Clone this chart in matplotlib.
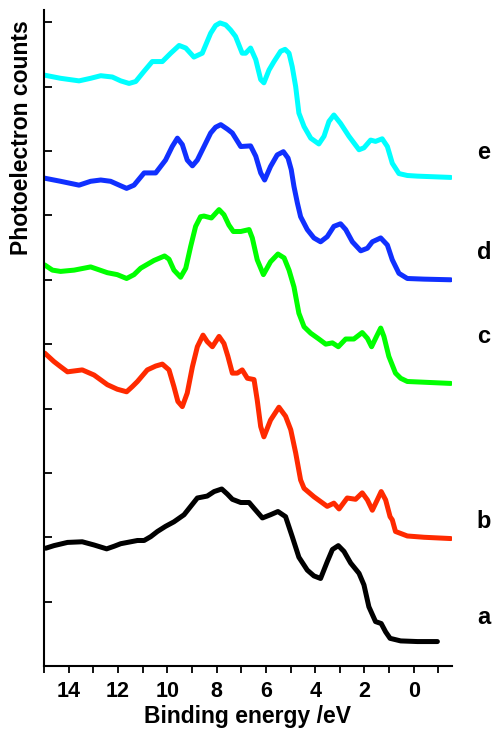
import matplotlib
matplotlib.use("Agg")
import matplotlib.pyplot as plt

plt.rcParams['font.family'] = ['Liberation Sans', 'DejaVu Sans']
plt.rcParams['font.weight'] = 'bold'

# spectra (binding energy in eV, stacked counts in arbitrary units)
e_x = [15.00, 14.33, 13.58, 13.11, 12.70, 12.23, 11.89, 11.55, 11.28, 10.94, 10.61, 10.20, 9.86,
       9.52, 9.25, 8.92, 8.58, 8.24, 8.04, 7.86, 7.63, 7.43, 7.23, 6.96, 6.82, 6.62, 6.41, 6.21,
       6.08, 5.87, 5.67, 5.40, 5.22, 5.06, 4.93, 4.79, 4.66, 4.45, 4.18, 3.85, 3.64, 3.44, 3.24,
       2.97, 2.63, 2.22, 2.02, 1.75, 1.55, 1.28, 1.07, 0.87, 0.60, 0.26, -0.15, -1.50]
e_y = [9.18, 9.13, 9.09, 9.13, 9.17, 9.15, 9.09, 9.05, 9.08, 9.24, 9.39, 9.39, 9.52,
       9.64, 9.60, 9.46, 9.52, 9.83, 9.95, 9.99, 9.96, 9.88, 9.78, 9.52, 9.52, 9.60, 9.42, 9.11,
       9.06, 9.26, 9.39, 9.55, 9.58, 9.52, 9.31, 9.00, 8.59, 8.38, 8.20, 8.11, 8.23, 8.46, 8.56,
       8.43, 8.23, 8.02, 8.05, 8.17, 8.15, 8.19, 8.07, 7.81, 7.65, 7.62, 7.61, 7.59]

d_x = [15.00, 14.33, 13.58, 13.11, 12.70, 12.30, 11.89, 11.65, 11.35, 10.94, 10.47, 10.07, 9.80,
       9.59, 9.39, 9.19, 8.98, 8.78, 8.51, 8.24, 8.04, 7.83, 7.56, 7.36, 7.02, 6.62, 6.41, 6.21,
       6.05, 5.81, 5.54, 5.29, 5.10, 4.97, 4.86, 4.72, 4.59, 4.32, 4.05, 3.78, 3.51, 3.24, 2.97,
       2.76, 2.49, 2.15, 1.88, 1.68, 1.34, 1.07, 0.87, 0.60, 0.26, -0.42, -1.50]
d_y = [7.58, 7.53, 7.47, 7.53, 7.55, 7.53, 7.46, 7.42, 7.47, 7.66, 7.66, 7.86, 8.07,
       8.20, 8.10, 7.86, 7.77, 7.86, 8.07, 8.28, 8.37, 8.41, 8.34, 8.28, 8.07, 8.08, 7.92, 7.66,
       7.55, 7.76, 7.94, 7.99, 7.89, 7.71, 7.45, 7.19, 6.98, 6.78, 6.65, 6.59, 6.67, 6.83, 6.87,
       6.78, 6.59, 6.45, 6.49, 6.59, 6.65, 6.54, 6.31, 6.10, 6.02, 6.01, 6.00]

c_x = [14.97, 14.66, 14.33, 13.78, 13.11, 12.43, 12.03, 11.65, 11.35, 11.08, 10.54, 10.11, 9.93,
       9.73, 9.46, 9.25, 9.05, 8.85, 8.65, 8.51, 8.21, 7.90, 7.70, 7.50, 7.32, 7.02, 6.68, 6.55,
       6.35, 6.10, 5.81, 5.51, 5.26, 5.06, 4.86, 4.66, 4.45, 4.18, 3.85, 3.57, 3.30, 3.06, 2.76,
       2.43, 2.09, 1.88, 1.71, 1.51, 1.34, 1.21, 1.01, 0.74, 0.53, 0.26, -1.50]
c_y = [6.23, 6.15, 6.13, 6.15, 6.20, 6.11, 6.08, 6.02, 6.08, 6.18, 6.30, 6.37, 6.32,
       6.15, 6.04, 6.18, 6.52, 6.83, 6.98, 6.99, 6.96, 7.09, 7.01, 6.85, 6.75, 6.75, 6.78, 6.65,
       6.31, 6.08, 6.28, 6.40, 6.34, 6.15, 5.89, 5.48, 5.27, 5.17, 5.08, 5.00, 5.02, 4.96, 5.08,
       5.08, 5.18, 5.09, 4.96, 5.12, 5.25, 5.12, 4.81, 4.55, 4.47, 4.42, 4.39]

b_x = [14.97, 14.60, 14.33, 14.05, 13.45, 12.97, 12.43, 12.03, 11.65, 11.42, 11.21, 10.81, 10.47,
       10.20, 9.93, 9.73, 9.57, 9.39, 9.19, 8.98, 8.78, 8.55, 8.38, 8.17, 7.90, 7.70, 7.54, 7.36,
       7.16, 6.96, 6.75, 6.48, 6.35, 6.21, 6.08, 5.81, 5.47, 5.20, 4.99, 4.79, 4.59, 4.45, 4.05,
       3.51, 3.24, 3.03, 2.70, 2.36, 2.09, 1.88, 1.68, 1.48, 1.32, 1.14, 0.96, 0.87, 0.74, 0.26,
       -0.42, -1.50]
b_y = [4.86, 4.73, 4.65, 4.57, 4.60, 4.52, 4.37, 4.30, 4.26, 4.34, 4.42, 4.60, 4.66,
       4.69, 4.60, 4.34, 4.11, 4.03, 4.24, 4.65, 4.96, 5.14, 5.04, 4.96, 5.12, 5.01, 4.81, 4.55,
       4.55, 4.60, 4.47, 4.45, 4.13, 3.72, 3.56, 3.82, 4.02, 3.88, 3.67, 3.31, 2.89, 2.76, 2.63,
       2.48, 2.53, 2.44, 2.61, 2.59, 2.69, 2.58, 2.42, 2.58, 2.71, 2.58, 2.32, 2.27, 2.09, 2.02,
       2.00, 1.98]

a_x = [14.93, 14.60, 14.05, 13.45, 12.97, 12.46, 12.16, 11.89, 11.21, 10.94, 10.67, 10.40, 10.07,
       9.73, 9.32, 9.05, 8.78, 8.38, 8.10, 7.79, 7.56, 7.36, 7.02, 6.68, 6.48, 6.14, 5.81, 5.51,
       5.20, 4.93, 4.66, 4.32, 4.05, 3.78, 3.51, 3.30, 3.06, 2.83, 2.56, 2.22, 2.02, 1.82, 1.55,
       1.32, 1.14, 0.96, 0.53, -0.15, -0.96]
a_y = [1.83, 1.87, 1.92, 1.93, 1.88, 1.82, 1.86, 1.90, 1.95, 1.95, 2.01, 2.09, 2.17,
       2.24, 2.35, 2.48, 2.61, 2.64, 2.71, 2.75, 2.67, 2.59, 2.54, 2.54, 2.45, 2.30, 2.35, 2.40,
       2.32, 2.01, 1.69, 1.49, 1.40, 1.36, 1.62, 1.81, 1.87, 1.78, 1.60, 1.44, 1.26, 0.92, 0.69,
       0.66, 0.53, 0.43, 0.39, 0.38, 0.38]

labels = ['a', 'b', 'c', 'd', 'e']
label_y = [0.76, 2.24, 5.12, 6.42, 7.98]
colors = ['black', '#ff2a00', '#00ff00', '#1030ff', '#00ffff']

fig = plt.figure(figsize=(4.95, 7.29), dpi=100)
ax = fig.add_axes([0.089, 0.0864, 0.824, 0.8998])

series = [(a_x, a_y), (b_x, b_y), (c_x, c_y), (d_x, d_y), (e_x, e_y)]
for (x, y), col in zip(series, colors):
    ax.plot(x, y, color=col, lw=3.6, solid_joinstyle='round', solid_capstyle='round')

for lab, ly in zip(labels, label_y):
    ax.text(-2.85, ly, lab, fontsize=17, fontweight='bold', ha='center', va='center',
            clip_on=False)

ax.set_xlim(15.0, -1.55)
ax.set_ylim(0, 10.19)
ax.set_xticks([14, 12, 10, 8, 6, 4, 2, 0])
ax.set_xticks([15, 13, 11, 9, 7, 5, 3, 1, -1], minor=True)
ax.set_yticks(range(1, 11))
ax.set_yticklabels([])
ax.tick_params(axis='x', which='both', direction='out', length=5, width=1.3,
               labelsize=15.5, pad=6)
ax.tick_params(axis='y', direction='in', length=6, width=1.3)
for t in ax.get_xticklabels():
    t.set_fontweight('bold')

for side in ['top', 'right']:
    ax.spines[side].set_visible(False)
for side in ['left', 'bottom']:
    ax.spines[side].set_linewidth(1.5)

ax.set_xlabel('Binding energy /eV', fontsize=16.5, fontweight='bold', labelpad=2)
ax.set_ylabel('Photoelectron counts', fontsize=16.5, fontweight='bold')
ax.yaxis.set_label_coords(-0.028, 0.805)

fig.savefig('out.png', dpi=100)
